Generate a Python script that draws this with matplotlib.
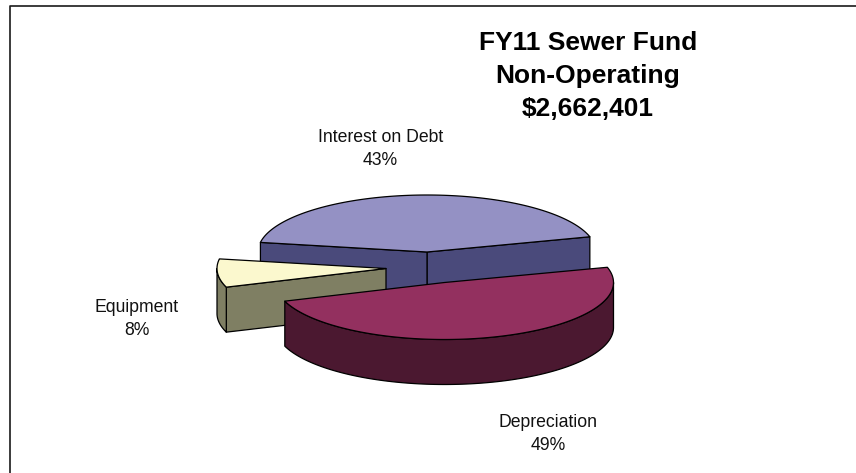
import numpy as np
import matplotlib
matplotlib.use("Agg")
import matplotlib.pyplot as plt
from matplotlib.patches import Polygon

# Fund shares, in drawing order around the pie
categories = ["Interest on Debt", "Equipment", "Depreciation"]
shares = [43, 8, 49]
title_lines = ["FY11 Sewer Fund", "Non-Operating", "$2,662,401"]

top_colors = ["#9491C4", "#FBF8CE", "#93305F"]
side_colors = ["#4A4A7B", "#7F7F63", "#4B1830"]
# Wedge apex on the page, each slice pulled out by its own amount
apexes = [(427, 252), (386, 268.5), (444.5, 282.5)]
label_pos = [(380.5, 149), (136.5, 319), (548, 434)]

RX, RY, DEPTH = 169, 57, 45
START_DEG = 15.5

plt.rcParams["font.family"] = ["Liberation Sans", "DejaVu Sans"]
fig = plt.figure(figsize=(8.56, 4.73), dpi=100)
ax = fig.add_axes([0, 0, 1, 1])
ax.set_xlim(0, 856)
ax.set_ylim(473, 0)
ax.axis("off")

# Chart frame, open at the right and bottom where the sheet is cropped
ax.plot([10.5, 10.5, 856], [473, 6.5, 6.5], color="#1a1a1a", lw=1.2, solid_capstyle="butt")


def rim(apex, t0, t1, drop=0):
    t = np.radians(np.linspace(t0, t1, 120))
    return np.column_stack([apex[0] + RX * np.cos(t), apex[1] - RY * np.sin(t) + drop])


def face(points, color, z):
    ax.add_patch(Polygon(points, closed=True, facecolor=color, edgecolor="black",
                         lw=0.9, joinstyle="round", zorder=z))


bounds = START_DEG + np.concatenate([[0], np.cumsum(shares)]) * 3.6

for i, (apex, top, side) in enumerate(zip(apexes, top_colors, side_colors)):
    t0, t1 = bounds[i], bounds[i + 1]
    z = 2 + i * 2
    a = np.array(apex, dtype=float)
    down = np.array([0, DEPTH])

    # Cut faces that turn toward the viewer
    for t in (t0, t1):
        end = rim(apex, t, t)[0]
        angle = t % 360
        faces_front = (i == 0) or (i == 1 and angle > 180)
        if faces_front:
            face([a, end, end + down, a + down], side, z)

    # Outer wall along the lower half of the ellipse
    lo, hi = max(t0, 180), min(t1, 360)
    if hi > lo:
        upper = rim(apex, lo, hi)
        lower = rim(apex, lo, hi, DEPTH)
        face(np.vstack([upper, lower[::-1]]), side, z)

    # Top surface
    face(np.vstack([[a], rim(apex, t0, t1)]), top, z + 1)

# Slice labels with their percentages
for name, share, (x, y) in zip(categories, shares, label_pos):
    ax.text(x, y, f"{name}\n{share}%", ha="center", va="center", fontsize=12.7,
            color="#111111", linespacing=1.4, zorder=10)

# Three-line heading
for line, y in zip(title_lines, (43, 76.5, 109)):
    ax.text(588, y, line, ha="center", va="center", fontsize=19.0, fontweight="bold",
            color="black", zorder=10)

fig.savefig("out.png", dpi=100)
